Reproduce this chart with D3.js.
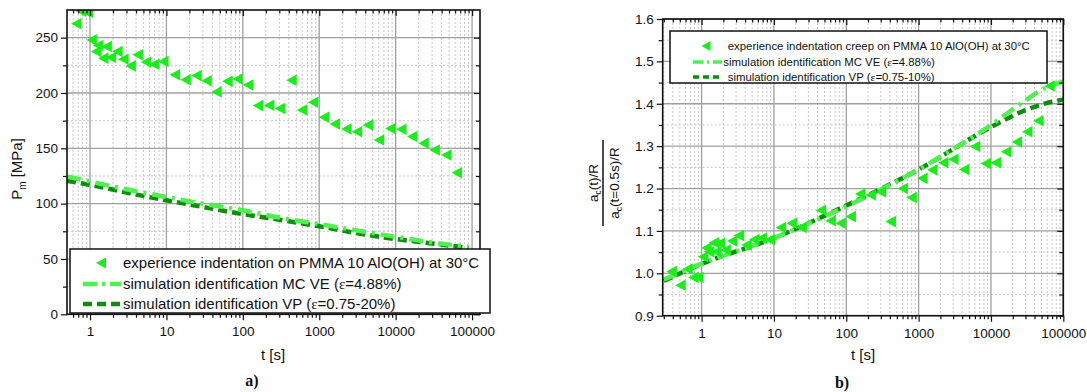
<!DOCTYPE html>
<html><head><meta charset="utf-8">
<script src="https://cdn.jsdelivr.net/npm/d3@7"></script>
<style>
body{margin:0;background:#fff;}
svg{display:block;font-family:"Liberation Sans",Arial,sans-serif;}
</style></head>
<body>
<svg id="chart" width="1087" height="392"></svg>
<script>
// ---- Data: chart a) ----
const expA_t = [0.66,0.76,0.86,0.94,1.05,1.2,1.28,1.49,1.65,1.88,2.28,2.73,3.4,4.2,5.4,6.9,9.1,12.9,17.8,24.8,33.5,45.3,63,85,117,158,221,305,433,596,832,1156,1596,2266,3120,4350,6050,8520,11860,16500,23200,32350,46000,63200];
const expA_P = [262.5,274,274,273,248,237.5,243,231.5,242,232,237.5,230.5,224.5,234.5,228,226,228.5,216.5,212,215.7,211,201,210.5,212.7,207.3,188.6,189,186,211.5,184.7,191.7,178,172,167.5,165,171,157.6,168,167.3,160.6,154.6,148.5,144,128];
const simA_t = [0.5,1,3,10,30,100,300,1000,3000,10000,30000,90000];
const simA_MC = [124.5,120,113,106,100,94,87.5,81.5,76,70,65,61];
const simA_VP = [120.5,117,110,103,97,90.5,85.5,79.5,73.5,68,64,60];
const yTicksA = [0,50,100,150,200,250];
const xTicks = [1,10,100,1000,10000,100000];
const legendA = ["experience indentation on PMMA 10 AlO(OH) at 30°C","simulation identification MC VE (","simulation identification VP ("];
const legendA_eps = ["","=4.88%)","=0.75-20%)"];

// ---- Data: chart b) ----
const expB_t = [0.385,0.51,0.64,0.77,0.9,1.05,1.17,1.27,1.48,1.61,1.79,2.15,2.65,3.28,4.19,5.35,6.76,8.8,12.5,17.6,24.2,44.7,60.8,83.6,115,155,217,302,411,602,800,1125,1545,2190,3020,4250,6030,8470,11650,16200,22800,31700,45200,64400];
const expB_v = [1.004,0.972,1.01,0.99,0.99,1.039,1.06,1.051,1.072,1.051,1.071,1.055,1.076,1.089,1.067,1.08,1.083,1.079,1.108,1.118,1.108,1.149,1.124,1.118,1.134,1.187,1.185,1.192,1.122,1.2,1.179,1.224,1.244,1.261,1.269,1.245,1.299,1.259,1.261,1.287,1.31,1.334,1.36,1.442];
const simB_t = [0.3,1,10,100,1000,10000,30000,60000,100000];
const simB_MC = [0.985,1.023,1.083,1.158,1.245,1.35,1.408,1.44,1.452];
const simB_VP = [0.982,1.022,1.083,1.16,1.245,1.345,1.385,1.402,1.41];
const yTicksB = [0.9,1.0,1.1,1.2,1.3,1.4,1.5,1.6];
const legendB = ["experience indentation creep on PMMA 10 AlO(OH) at 30°C","simulation identification MC VE (","simulation identification VP ("];
const legendB_eps = ["","=4.88%)","=0.75-10%)"];

const C_EXP = "#1aee1a", C_MC = "#4ff04f", C_VP = "#0a8f0a";
const svg = d3.select("#chart");

function triPath(s){ // left-pointing triangle
  return `M${-s*0.5},0 L${s*0.5},${-s*0.55} L${s*0.5},${s*0.55} Z`;
}

function drawPanel(cfg){
  const {x0,x1,y0,y1,xDom,yDom,id} = cfg;
  const x = d3.scaleLog().domain(xDom).range([x0,x1]);
  const y = d3.scaleLinear().domain(yDom).range([y1,y0]);
  const g = svg.append("g");
  const minors = [];
  for(let e=-1;e<=5;e++) for(let k=2;k<=9;k++){const v=k*Math.pow(10,e); if(v>xDom[0]&&v<xDom[1]) minors.push(v);}
  const majorsX = xTicks.filter(v=>v>=xDom[0]&&v<=xDom[1]);
  g.selectAll(null).data(minors).join("line")
    .attr("x1",d=>x(d)).attr("x2",d=>x(d)).attr("y1",y0).attr("y2",y1)
    .attr("stroke","#c8c8c8").attr("stroke-width",1).attr("stroke-dasharray","2,2");
  g.selectAll(null).data(cfg.yMinor).join("line")
    .attr("y1",d=>y(d)).attr("y2",d=>y(d)).attr("x1",x0).attr("x2",x1)
    .attr("stroke","#c8c8c8").attr("stroke-width",1).attr("stroke-dasharray","2,2");
  g.selectAll(null).data(majorsX).join("line")
    .attr("x1",d=>x(d)).attr("x2",d=>x(d)).attr("y1",y0).attr("y2",y1)
    .attr("stroke","#a0a0a0").attr("stroke-width",1.3);
  g.selectAll(null).data(cfg.yTicks).join("line")
    .attr("y1",d=>y(d)).attr("y2",d=>y(d)).attr("x1",x0).attr("x2",x1)
    .attr("stroke","#a0a0a0").attr("stroke-width",1.3);

  svg.append("clipPath").attr("id","clip"+id).append("rect")
    .attr("x",x0).attr("y",y0).attr("width",x1-x0).attr("height",y1-y0);
  const dg = svg.append("g").attr("clip-path",`url(#clip${id})`);
  const line = d3.line().x(d=>x(d[0])).y(d=>y(d[1])).curve(d3.curveMonotoneX);
  dg.append("path").datum(cfg.simT.map((t,i)=>[t,cfg.simVP[i]])).attr("d",line)
    .attr("fill","none").attr("stroke",C_VP).attr("stroke-width",4.5).attr("stroke-dasharray","9,5");
  dg.append("path").datum(cfg.simT.map((t,i)=>[t,cfg.simMC[i]])).attr("d",line)
    .attr("fill","none").attr("stroke",C_MC).attr("stroke-width",4.5).attr("stroke-dasharray","14,6,3,6");
  dg.selectAll(null).data(cfg.expT.map((t,i)=>[t,cfg.expV[i]])).join("path")
    .attr("transform",d=>`translate(${x(d[0])},${y(d[1])})`)
    .attr("d",triPath(10.5)).attr("fill",C_EXP);

  const ax = svg.append("g");
  const bot = d3.axisBottom(x).tickValues(majorsX).tickFormat(d3.format("d")).tickSize(6).tickSizeOuter(0);
  ax.append("g").attr("transform",`translate(0,${y1})`).call(bot)
    .call(s=>s.selectAll("text").attr("font-size",13.5).attr("fill","#111").attr("dy","0.95em").attr("font-family","Liberation Sans, Arial"));
  ax.append("g").attr("transform",`translate(0,${y1})`).call(d3.axisBottom(x).tickValues(minors).tickFormat("").tickSize(3.5).tickSizeOuter(0));
  ax.append("g").attr("transform",`translate(0,${y0})`).call(d3.axisBottom(x).tickValues(majorsX).tickFormat("").tickSize(6).tickSizeOuter(0));
  ax.append("g").attr("transform",`translate(0,${y0})`).call(d3.axisBottom(x).tickValues(minors).tickFormat("").tickSize(3.5).tickSizeOuter(0));
  const left = d3.axisLeft(y).tickValues(cfg.yTicks).tickFormat(cfg.yFmt).tickSize(6).tickSizeOuter(0);
  ax.append("g").attr("transform",`translate(${x0},0)`).call(left)
    .call(s=>s.selectAll("text").attr("font-size",13.5).attr("fill","#111").attr("font-family","Liberation Sans, Arial"));
  ax.append("g").attr("transform",`translate(${x0},0)`).call(d3.axisLeft(y).tickValues(cfg.yMinor).tickFormat("").tickSize(4).tickSizeOuter(0));
  ax.append("g").attr("transform",`translate(${x1},0)`).call(d3.axisLeft(y).tickValues(cfg.yTicks).tickFormat("").tickSize(6).tickSizeOuter(0));
  ax.append("g").attr("transform",`translate(${x1},0)`).call(d3.axisLeft(y).tickValues(cfg.yMinor).tickFormat("").tickSize(4).tickSizeOuter(0));
  ax.selectAll(".domain").remove();
  ax.selectAll("line").attr("stroke","#111").attr("stroke-width",1.2);
  svg.append("rect").attr("x",x0).attr("y",y0).attr("width",x1-x0).attr("height",y1-y0)
    .attr("fill","none").attr("stroke","#111").attr("stroke-width",1.6);

  const L = cfg.legend;
  svg.append("rect").attr("x",L.x).attr("y",L.y).attr("width",L.w).attr("height",L.h)
    .attr("fill","#fff").attr("stroke","#111").attr("stroke-width",1.5);
  const lg = svg.append("g");
  lg.append("path").attr("transform",`translate(${L.symX},${L.rows[0]})`).attr("d",triPath(L.tri)).attr("fill",C_EXP);
  lg.append("line").attr("x1",L.lx0).attr("x2",L.lx1).attr("y1",L.rows[1]).attr("y2",L.rows[1])
    .attr("stroke",C_MC).attr("stroke-width",L.lw).attr("stroke-dasharray",L.dashMC);
  lg.append("line").attr("x1",L.lx0).attr("x2",L.lx1).attr("y1",L.rows[2]).attr("y2",L.rows[2])
    .attr("stroke",C_VP).attr("stroke-width",L.lw).attr("stroke-dasharray",L.dashVP);
  L.texts.forEach((t,i)=>{
    const tx = lg.append("text").attr("x",L.tx[i]).attr("y",L.rows[i]).attr("dy","0.35em")
      .attr("font-size",L.fs).attr("fill","#111");
    tx.append("tspan").text(t);
    if(L.eps[i]){
      tx.append("tspan").text("ε").attr("font-family","Liberation Serif, serif");
      tx.append("tspan").text(L.eps[i]);
    }
  });
  return {x,y};
}

drawPanel({id:"A",x0:67,x1:480,y0:10,y1:314.3,xDom:[0.5,127000],yDom:[0,275],
  yTicks:yTicksA,yMinor:[25,75,125,175,225],yFmt:d3.format("d"),
  expT:expA_t,expV:expA_P,simT:simA_t,simMC:simA_MC,simVP:simA_VP,
  legend:{x:70,y:249,w:420,h:64,rows:[263,284,304],symX:101,tri:10,lx0:83,lx1:121,lw:4.5,
    dashMC:"14,5,3,5",dashVP:"9,5",fs:15,tx:[123,123,123],texts:legendA,eps:legendA_eps}});

drawPanel({id:"B",x0:662.7,x1:1063.3,y0:19,y1:315.7,xDom:[0.29,100000],yDom:[0.9,1.6],
  yTicks:yTicksB,yMinor:[0.95,1.05,1.15,1.25,1.35,1.45,1.55],yFmt:d3.format(".1f"),
  expT:expB_t,expV:expB_v,simT:simB_t,simMC:simB_MC,simVP:simB_VP,
  legend:{x:670,y:31,w:377,h:52,rows:[46,62,77],symX:706,tri:9,lx0:693,lx1:722,lw:3.5,
    dashMC:"10,4,2,4",dashVP:"6,4",fs:11.4,tx:[727.7,723.3,727.7],texts:legendB,eps:legendB_eps}});

const yl = svg.append("text").attr("transform","translate(22,169) rotate(-90)").attr("text-anchor","middle")
  .attr("font-size",15).attr("fill","#111");
yl.append("tspan").text("P");
yl.append("tspan").text("m").attr("font-size",10).attr("dy",4);
yl.append("tspan").text(" [MPa]").attr("dy",-4);

svg.append("text").attr("x",273).attr("y",355).attr("dy","0.35em").attr("text-anchor","middle").attr("font-size",15).attr("fill","#111").text("t [s]");
svg.append("text").attr("x",863).attr("y",355).attr("dy","0.35em").attr("text-anchor","middle").attr("font-size",15).attr("fill","#111").text("t [s]");
svg.append("text").attr("x",252).attr("y",380).attr("dy","0.35em").attr("text-anchor","middle").attr("font-size",16).attr("font-weight","bold").attr("font-family","Liberation Serif, serif").attr("fill","#111").text("a)");
svg.append("text").attr("x",842).attr("y",382).attr("dy","0.35em").attr("text-anchor","middle").attr("font-size",16).attr("font-weight","bold").attr("font-family","Liberation Serif, serif").attr("fill","#111").text("b)");

const fg = svg.append("g").attr("transform","translate(603,183) rotate(-90)");
fg.append("line").attr("x1",-43).attr("x2",43).attr("y1",0).attr("y2",0).attr("stroke","#111").attr("stroke-width",1.5);
const num = fg.append("text").attr("x",0).attr("y",-5).attr("text-anchor","middle").attr("font-size",13.5).attr("fill","#111");
num.append("tspan").text("a");
num.append("tspan").text("c").attr("font-size",8.5).attr("dy",3);
num.append("tspan").text("(t)/R").attr("dy",-3);
const den = fg.append("text").attr("x",0).attr("y",16).attr("text-anchor","middle").attr("font-size",13.5).attr("fill","#111");
den.append("tspan").text("a");
den.append("tspan").text("c").attr("font-size",8.5).attr("dy",3);
den.append("tspan").text("(t=0.5s)/R").attr("dy",-3);
</script>
</body></html>
